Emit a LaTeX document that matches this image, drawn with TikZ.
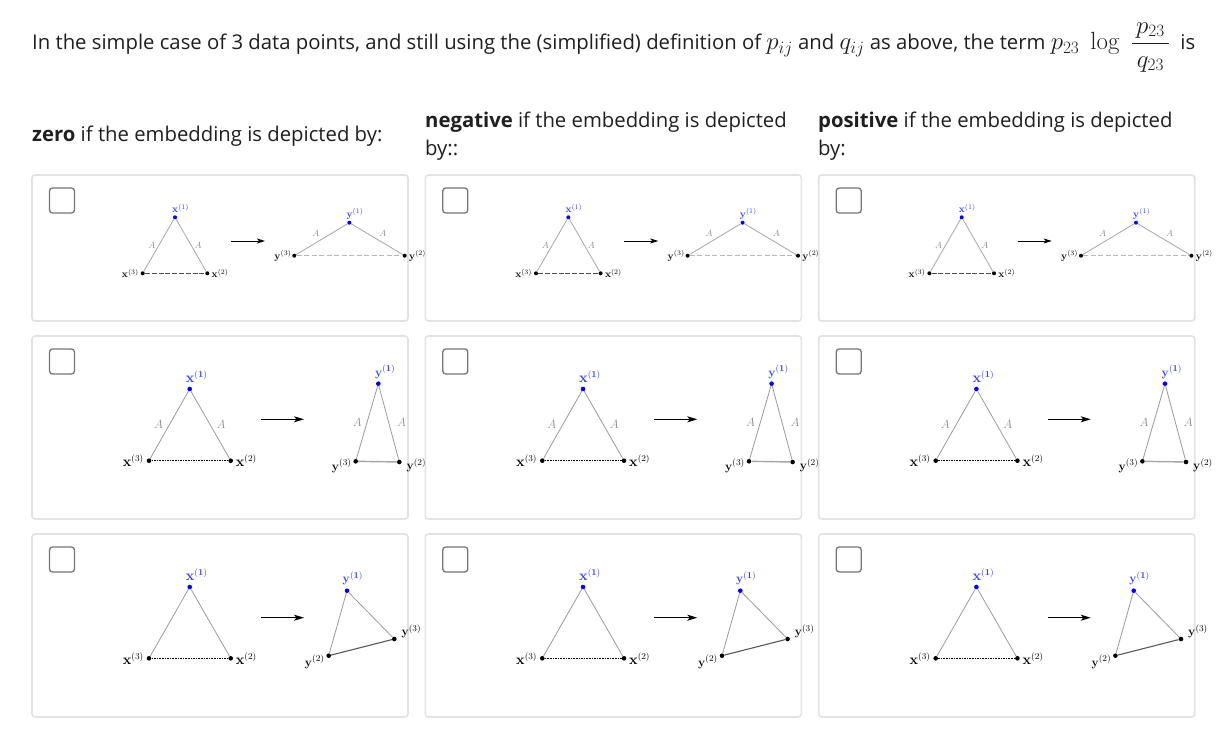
\documentclass[tikz,border=0pt]{standalone}
\usepackage{amsmath}
\usepackage[no-math]{fontspec}
\setmainfont{Open Sans}
\usetikzlibrary{arrows.meta}
\definecolor{txt}{HTML}{1F1F1F}
\definecolor{cellb}{HTML}{E3E3E3}
\definecolor{chk}{HTML}{767676}
\definecolor{ptblue}{HTML}{0000FF}
\definecolor{lblblue}{HTML}{3040E8}
\definecolor{edgec}{HTML}{9A9A9A}
\definecolor{alabc}{HTML}{8C8C8C}
\newcommand\mth[1]{{\fontsize{23.5}{26}\selectfont$#1$}}
\newcommand\lblsmall{\fontsize{10}{11}\selectfont}
\newcommand\lblbig{\fontsize{13.5}{15}\selectfont}
\newcommand\lblmid{\fontsize{12.5}{14}\selectfont}
\newcommand\alsmall{\fontsize{9.5}{10}\selectfont}
\newcommand\almid{\fontsize{12}{13}\selectfont}
\tikzset{
  cellbox/.style={draw=cellb, line width=1.6pt, rounded corners=3pt},
  chkbox/.style={draw=chk, line width=1.3pt, rounded corners=3pt, fill=white},
  bpt/.style={circle, fill=black, inner sep=0pt, minimum size=4pt},
  blpt/.style={circle, fill=ptblue, inner sep=0pt, minimum size=4pt},
  bptb/.style={circle, fill=black, inner sep=0pt, minimum size=4.6pt},
  blptb/.style={circle, fill=ptblue, inner sep=0pt, minimum size=4.6pt},
  tri/.style={draw=edgec, line width=0.8pt},
  trilight/.style={draw=edgec!80, line width=0.9pt},
  dashone/.style={draw=black!70, line width=0.8pt, dash pattern=on 5pt off 1.8pt},
  dashlight/.style={draw=black!28, line width=0.9pt, dash pattern=on 5pt off 2.5pt},
  dashfine/.style={draw=black, line width=0.7pt, dash pattern=on 1.6pt off 1pt},
  solidlight/.style={draw=black!35, line width=1.4pt},
  soliddark/.style={draw=black!65, line width=1.1pt},
  arr/.style={draw=black, line width=0.9pt, -{Stealth[length=8pt,width=5pt,inset=2pt]}},
  arrb/.style={draw=black, line width=1pt, -{Stealth[length=10pt,width=6pt,inset=2.5pt]}},
  lab/.style={inner sep=1pt, text=black},
  blab/.style={inner sep=1pt, text=lblblue},
  alab/.style={inner sep=1pt, text=alabc},
  hdr/.style={anchor=base west, inner sep=0pt, text=txt, font=\fontsize{20.3}{24}\selectfont},
}
\begin{document}
\begin{tikzpicture}[x=1pt, y=-1pt]
\useasboundingbox (0,0) rectangle (1226,735);
\fill[white] (0,0) rectangle (1226,735);

% title
\node[hdr] (title) at (32,50)
  {In the simple case of 3 data points, and still using the (simplified) definition of \mth{p_{ij}} and \mth{q_{ij}} as above, the term \mth{p_{23}\;\log\;\dfrac{\,p_{23}\,}{\,q_{23}\,}}\hspace{5pt} is};

% headers
\node[hdr] (h1) at (32,142) {\textbf{zero} if the embedding is depicted by:};
\node[hdr] (h2a) at (425,128) {\textbf{negative} if the embedding is depicted};
\node[hdr] (h2b) at (425,156) {by::};
\node[hdr] (h3a) at (818,128) {\textbf{positive} if the embedding is depicted};
\node[hdr] (h3b) at (818,156) {by:};

\foreach \i/\cx/\cr in {0/0/424, 1/393.3/818, 2/786.7/1226}{
  \begin{scope}[shift={(\cx,0)}]
    % cells
    \draw[cellbox] (32,175) rectangle (408,321);
    \draw[cellbox] (32,336) rectangle (408,519);
    \draw[cellbox] (32,534) rectangle (408,717);
    % checkboxes
    \draw[chkbox] (49.5,188) rectangle (74.5,213);
    \draw[chkbox] (49.5,349) rectangle (74.5,374);
    \draw[chkbox] (49.5,547) rectangle (74.5,572);
  \end{scope}
  \begin{scope}
    \clip (\cx+33,170) rectangle (\cr,725);
    \begin{scope}[shift={(\cx,0)}]
    % ---------- row 1 ----------
    \node[blpt] (a1-\i) at (175,217.3) {};
    \node[bpt]  (a3-\i) at (142.7,273.3) {};
    \node[bpt]  (a2-\i) at (207.3,273.3) {};
    \draw[trilight] (a1-\i) -- node[alab, left=2pt, font=\alsmall]{$A$} (a3-\i);
    \draw[trilight] (a1-\i) -- node[alab, right=2pt, font=\alsmall]{$A$} (a2-\i);
    \draw[dashone] (a3-\i) -- (a2-\i);
    \node[blab, anchor=south west, font=\lblsmall] at ([xshift=-4pt,yshift=1pt]a1-\i.north) {$\mathbf{x}^{(1)}$};
    \node[lab, anchor=east, font=\lblsmall] at ([xshift=-0.5pt]a3-\i.west) {$\mathbf{x}^{(3)}$};
    \node[lab, anchor=west, font=\lblsmall] at ([xshift=1pt]a2-\i.east) {$\mathbf{x}^{(2)}$};
    \coordinate (ra-\i) at (231,241);
    \coordinate (rb-\i) at (265,241);
    \draw[arr] (ra-\i) -- (rb-\i);
    \node[blpt] (b1-\i) at (349.3,222.7) {};
    \node[bpt]  (b3-\i) at (294.3,255.7) {};
    \node[bpt]  (b2-\i) at (404.7,255.7) {};
    \draw[trilight] (b1-\i) -- node[alab, anchor=south east, inner sep=2pt, font=\alsmall]{$A$} (b3-\i);
    \draw[trilight] (b1-\i) -- node[alab, anchor=south west, inner sep=2pt, font=\alsmall]{$A$} (b2-\i);
    \draw[dashlight] (b3-\i) -- (b2-\i);
    \node[blab, anchor=south west, font=\lblsmall] at ([xshift=-4pt,yshift=0pt]b1-\i.north) {$\mathbf{y}^{(1)}$};
    \node[lab, anchor=east, font=\lblsmall] at ([xshift=0.5pt]b3-\i.west) {$\mathbf{y}^{(3)}$};
    \node[lab, anchor=west, font=\lblsmall] at ([xshift=1pt]b2-\i.east) {$\mathbf{y}^{(2)}$};
    % ---------- row 2 ----------
    \node[blptb] (c1-\i) at (189.7,389) {};
    \node[bptb]  (c3-\i) at (149,460.7) {};
    \node[bptb]  (c2-\i) at (230.7,460.7) {};
    \draw[tri] (c1-\i) -- node[alab, left=5pt, font=\almid]{$A$} (c3-\i);
    \draw[tri] (c1-\i) -- node[alab, right=5pt, font=\almid]{$A$} (c2-\i);
    \draw[dashfine] (c3-\i) -- (c2-\i);
    \node[blab, anchor=south west, font=\lblbig] at ([xshift=-5pt,yshift=3pt]c1-\i.north) {$\mathbf{x}^{\mathbf{(1)}}$};
    \node[lab, anchor=east, font=\lblbig] at ([xshift=-1.5pt]c3-\i.west) {$\mathbf{x}^{(3)}$};
    \node[lab, anchor=west, font=\lblbig] at ([xshift=1.5pt]c2-\i.east) {$\mathbf{x}^{(2)}$};
    \coordinate (rc-\i) at (261,419.3);
    \coordinate (rd-\i) at (304,419.3);
    \draw[arrb] (rc-\i) -- (rd-\i);
    \node[blptb] (d1-\i) at (378.3,383.7) {};
    \node[bptb]  (d3-\i) at (355.7,461.3) {};
    \node[bptb]  (d2-\i) at (399.3,462) {};
    \draw[tri] (d1-\i) -- node[alab, left=4pt, font=\almid]{$A$} (d3-\i);
    \draw[tri] (d1-\i) -- node[alab, right=7pt, font=\almid]{$A$} (d2-\i);
    \draw[solidlight] (d3-\i) -- (d2-\i);
    \node[blab, anchor=south west, font=\lblmid] at ([xshift=-4.5pt,yshift=1.5pt]d1-\i.north) {$\mathbf{y}^{\mathbf{(1)}}$};
    \node[lab, anchor=east, font=\lblmid] at ([xshift=-0.5pt,yshift=-4.5pt]d3-\i.west) {$\mathbf{y}^{(3)}$};
    \node[lab, anchor=west, font=\lblmid] at ([xshift=3.5pt,yshift=-3pt]d2-\i.east) {$\mathbf{y}^{(2)}$};
    % ---------- row 3 ----------
    \node[blptb] (e1-\i) at (189.7,587) {};
    \node[bptb]  (e3-\i) at (149,658.3) {};
    \node[bptb]  (e2-\i) at (230.7,658.3) {};
    \draw[tri] (e1-\i) -- (e3-\i);
    \draw[tri] (e1-\i) -- (e2-\i);
    \draw[dashfine] (e3-\i) -- (e2-\i);
    \node[blab, anchor=south west, font=\lblbig] at ([xshift=-5pt,yshift=3pt]e1-\i.north) {$\mathbf{x}^{\mathbf{(1)}}$};
    \node[lab, anchor=east, font=\lblbig] at ([xshift=-1.5pt]e3-\i.west) {$\mathbf{x}^{(3)}$};
    \node[lab, anchor=west, font=\lblbig] at ([xshift=1.5pt]e2-\i.east) {$\mathbf{x}^{(2)}$};
    \coordinate (re-\i) at (261,617.7);
    \coordinate (rf-\i) at (304,617.7);
    \draw[arrb] (re-\i) -- (rf-\i);
    \node[blptb] (f1-\i) at (347,590.7) {};
    \node[bptb]  (f2-\i) at (328.7,655.7) {};
    \node[bptb]  (f3-\i) at (394.3,639) {};
    \draw[tri] (f1-\i) -- (f2-\i);
    \draw[tri] (f1-\i) -- (f3-\i);
    \draw[soliddark] (f2-\i) -- (f3-\i);
    \node[blab, anchor=south west, font=\lblmid] at ([xshift=-5.5pt,yshift=2pt]f1-\i.north) {$\mathbf{y}^{\mathbf{(1)}}$};
    \node[lab, anchor=east, font=\lblmid] at ([xshift=-0.5pt,yshift=-6pt]f2-\i.west) {$\mathbf{y}^{(2)}$};
    \node[lab, anchor=west, font=\lblmid] at ([xshift=6pt,yshift=8pt]f3-\i.center) {$\mathbf{y}^{(3)}$};
    \end{scope}
  \end{scope}
}
\end{tikzpicture}
\end{document}
